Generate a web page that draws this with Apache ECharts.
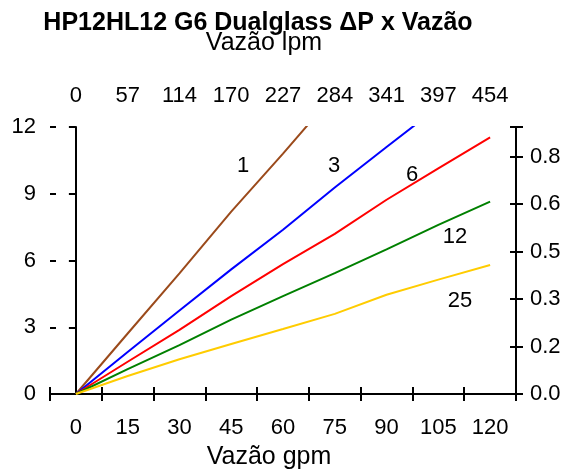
<!DOCTYPE html>
<html>
<head>
<meta charset="utf-8">
<script src="https://cdn.jsdelivr.net/npm/echarts@6/dist/echarts.min.js"></script>
<style>html,body{margin:0;padding:0;background:#fff;}#c{width:574px;height:470px;}</style>
</head>
<body>
<div id="c"></div>
<script>
// ---- data ----
var gpmLabels = ['0','15','30','45','60','75','90','105','120'];
var lpmLabels = ['0','57','114','170','227','284','341','397','454'];
var rightLabels = ['0.0','0.2','0.3','0.5','0.6','0.8'];
var flowGpm = [0, 15, 30, 45, 60, 75, 90, 105, 120];
var s1  = [0, 2.72, 5.42, 8.2, 10.8, 13.5];
var s3  = [0, 1.89, 3.75, 5.6, 7.38, 9.28, 11.1, 12.9];
var s6  = [0, 1.45, 2.88, 4.4, 5.84, 7.2, 8.73, 10.14, 11.53];
var s12 = [0, 1.12, 2.2, 3.34, 4.4, 5.43, 6.5, 7.6, 8.65];
var s25 = [0, 0.81, 1.56, 2.25, 2.92, 3.6, 4.46, 5.14, 5.8];
var seriesNames = ['1','3','6','12','25'];
var PSI_TO_KGF = 0.070307;

var FONT = "'Liberation Sans', Arial, Helvetica, sans-serif";
function pairs(ys){ return ys.map(function(y,i){ return [flowGpm[i], y]; }); }
var colors = ['#9b4a1b','#0000ff','#ff0000','#008000','#ffcc00'];
var allSeries = [s1,s3,s6,s12,s25];

var lineStyleAxis = {show:true, lineStyle:{color:'#000', width:2}};
var labelStyle = {color:'#000', fontSize:22, fontFamily:FONT};

function catAxis(data, pos, inside, showLabel, showLine, margin){
  return {
    type:'category', data:data, position:pos, boundaryGap:true,
    axisLine: showLine ? lineStyleAxis : {show:false},
    axisTick:{show:true, inside:inside, length: inside?6:7, lineStyle:{color:'#000', width:2}},
    axisLabel: showLabel ? Object.assign({interval:0, margin:margin}, labelStyle) : {show:false},
    splitLine:{show:false}
  };
}
function valY(pos, inside, showLabel, showLine, extra){
  var a = {
    type:'value', position:pos,
    axisLine: showLine ? lineStyleAxis : {show:false},
    axisTick:{show:true, inside:inside, length: inside?6:7, lineStyle:{color:'#000', width:2}},
    axisLabel: showLabel ? Object.assign({margin:14}, labelStyle) : {show:false},
    splitLine:{show:false}
  };
  return Object.assign(a, extra);
}
var leftExt = {min:0, max:12, interval:3};
var rightExt = {min:0, max:12*PSI_TO_KGF, interval:0.15};

var option = {
  animation:false,
  backgroundColor:'#fff',
  grid:{left:50, right:58, top:127, bottom:76, containLabel:false},
  xAxis:[
    catAxis(gpmLabels,'bottom',false,true,true,23),
    catAxis(gpmLabels,'bottom',true,false,false,0),
    catAxis(lpmLabels,'top',false,true,true,20),
    catAxis(lpmLabels,'top',true,false,false,0),
    {type:'value', min:-7.5, max:127.5, show:false}
  ],
  yAxis:[
    valY('left',false,true,true,leftExt),
    valY('left',true,false,false,leftExt),
    (function(){ var a = valY('right',false,true,true,rightExt);
      a.axisLabel.formatter = function(v){ var k=Math.round(v/0.15); return rightLabels[k]!==undefined && Math.abs(v-k*0.15)<1e-6 ? rightLabels[k] : ''; };
      return a; })(),
    valY('right',true,false,false,rightExt)
  ],
  series: allSeries.map(function(d,i){
    return {type:'line', name:seriesNames[i], xAxisIndex:4, yAxisIndex:0, data:pairs(d),
      showSymbol:false, symbol:'none', clip:true, lineStyle:{color:colors[i], width:2}, z:3};
  }),
  graphic:[
    {type:'text', x:258, y:23, style:{text:'HP12HL12 G6 Dualglass ΔP x Vazão', font:'bold 25px '+FONT, fill:'#000', textAlign:'center', textVerticalAlign:'middle'}},
    {type:'text', x:264, y:43, style:{text:'Vazão lpm', font:'25px '+FONT, fill:'#000', textAlign:'center', textVerticalAlign:'middle'}},
    {type:'text', x:269, y:457, style:{text:'Vazão gpm', font:'25px '+FONT, fill:'#000', textAlign:'center', textVerticalAlign:'middle'}},
    {type:'text', x:243, y:166, style:{text:seriesNames[0], font:'22px '+FONT, fill:'#000', textAlign:'center', textVerticalAlign:'middle'}},
    {type:'text', x:334, y:166, style:{text:seriesNames[1], font:'22px '+FONT, fill:'#000', textAlign:'center', textVerticalAlign:'middle'}},
    {type:'text', x:412, y:175, style:{text:seriesNames[2], font:'22px '+FONT, fill:'#000', textAlign:'center', textVerticalAlign:'middle'}},
    {type:'text', x:455, y:237, style:{text:seriesNames[3], font:'22px '+FONT, fill:'#000', textAlign:'center', textVerticalAlign:'middle'}},
    {type:'text', x:460, y:301, style:{text:seriesNames[4], font:'22px '+FONT, fill:'#000', textAlign:'center', textVerticalAlign:'middle'}}
  ]
};
var chart = echarts.init(document.getElementById('c'), null, {renderer:'canvas'});
chart.setOption(option);
</script>
</body>
</html>
